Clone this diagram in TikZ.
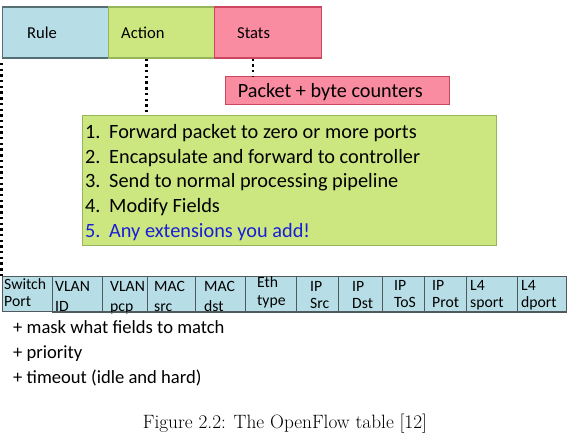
\documentclass[tikz,border=0pt]{standalone}
\usepackage{fontspec}
\newfontfamily\cfont{Carlito}
\definecolor{ruleblue}{RGB}{183,222,230}
\definecolor{ruleedge}{RGB}{85,110,115}
\definecolor{actgreen}{RGB}{205,231,128}
\definecolor{actedge}{RGB}{150,180,90}
\definecolor{statpink}{RGB}{250,140,162}
\definecolor{statedge}{RGB}{205,70,95}
\definecolor{extblue}{RGB}{25,30,215}
\definecolor{celledge}{RGB}{80,90,92}
\begin{document}
\begin{tikzpicture}[x=1pt,y=-1pt,
  topbox/.style={rectangle,inner sep=0pt,line width=1.2pt,anchor=north west},
  rulebox/.style={topbox,fill=ruleblue,draw=ruleedge},
  actbox/.style={topbox,fill=actgreen,draw=actedge},
  statbox/.style={topbox,fill=statpink,draw=statedge},
  cellbox/.style={rectangle,inner sep=0pt,line width=1.3pt,anchor=north west,fill=ruleblue,draw=celledge,minimum height=35pt},
  toplabel/.style={anchor=base west,inner sep=0pt,font=\cfont\fontsize{16.6}{19}\selectfont},
  pktlabel/.style={anchor=base west,inner sep=0pt,font=\cfont\fontsize{20.2}{23}\selectfont},
  listlabel/.style={anchor=base west,inner sep=0pt,font=\cfont\fontsize{20.3}{24}\selectfont},
  celllabel/.style={anchor=base west,inner sep=0pt,font=\cfont\fontsize{15.7}{18}\selectfont},
  notelabel/.style={anchor=base west,inner sep=0pt,font=\cfont\fontsize{18.6}{22}\selectfont},
  dotline/.style={line width=2.7pt,dash pattern=on 2.4pt off 3.3pt,black}
]
\useasboundingbox (0,0) rectangle (571,441);

% top boxes
\node[rulebox,minimum width=106pt,minimum height=51pt] (rule) at (2,6.5) {};
\node[actbox,minimum width=106pt,minimum height=51pt] (action) at (108,6.5) {};
\node[statbox,minimum width=106.5pt,minimum height=51pt] (stats) at (214,6.5) {};
\node[toplabel] (ruletxt) at (27,38.3) {Rule};
\node[toplabel] (acttxt) at (121,38.3) {Action};
\node[toplabel] (stattxt) at (237,38.3) {Stats};

% packet counters
\node[statbox,minimum width=224pt,minimum height=28pt] (pkt) at (225,76) {};
\node[pktlabel] (pkttxt) at (237.7,97.3) {Packet + byte counters};

% action list
\node[actbox,minimum width=414pt,minimum height=130pt] (list) at (82,115) {};
\foreach \i/\t/\c in {1/Forward packet to zero or more ports/black,
                     2/Encapsulate and forward to controller/black,
                     3/Send to normal processing pipeline/black,
                     4/Modify Fields/black,
                     5/Any extensions you add!/extblue}{
  \node[listlabel,text=\c] (num\i) at (85,{139+24.5*(\i-1)}) {\i.};
  \node[listlabel,text=\c] (item\i) at (109,{139+24.5*(\i-1)}) {\t};
}

% field row
\foreach \n/\a/\b in {c1/2/52,c2/52/102,c3/102/147,c4/147/195,c5/195/245,c6/245/296,
                      c7/296/338,c8/338/382,c9/382/424,c10/424/466,c11/466/517,c12/517/566}{
  \node[cellbox,minimum width={(\b-\a)*1pt}] (\n) at (\a,276) {};
}
\foreach \n/\x/\ya/\yb/\la/\lb in {
   s1/4/289.3/306.7/Switch/Port,
   s2/55/291.2/311.5/VLAN/ID,
   s3/110/291.2/311.5/VLAN/pcp,
   s4/154/291.2/311.5/MAC/src,
   s5/204/291.2/311.5/MAC/dst,
   s6/257/287.3/305.8/Eth/type,
   s7/310/291.5/308.3/IP/Src,
   s8/352/291.5/308.3/IP/Dst,
   s9/394/290.5/307.5/IP/ToS,
   s10/432/290.5/307.5/IP/Prot,
   s11/470/290.5/307.5/L4/sport,
   s12/521/290.5/307.5/L4/dport}{
  \node[celllabel] (\n a) at (\x,\ya) {\la};
  \node[celllabel] (\n b) at (\x,\yb) {\lb};
}
\draw[line width=1.3pt,celledge] (c2.south west) -- (c12.south east);

% notes
\node[notelabel] (m1) at (13,333.6) {+ mask what fields to match};
\node[notelabel] (m2) at (13,358.3) {+ priority};
\node[notelabel] (m3) at (13,383) {+ timeout (idle and hard)};

% caption
\node[anchor=base,inner sep=0pt,font=\fontsize{19.3}{23}\selectfont] (cap) at (285,428) {Figure 2.2: The OpenFlow table [12]};

% dotted connectors
\coordinate (lt) at (1.6,63);
\draw[dotline] (lt) -- (lt |- c1.north);
\draw[dotline] (146.7,0 |- action.south) -- (146.7,0 |- list.north);
\draw[dotline] (253,0 |- stats.south) -- (253,0 |- pkt.north);
\end{tikzpicture}
\end{document}
